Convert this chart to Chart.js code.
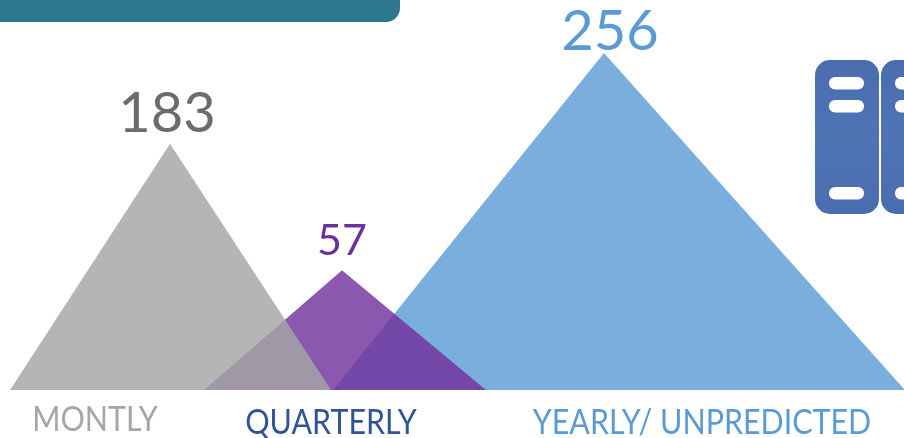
<!DOCTYPE html>
<html>
<head>
<meta charset="utf-8">
<style>html,body{margin:0;padding:0;background:#fff;overflow:hidden}canvas{display:block}</style>
<script src="https://cdn.jsdelivr.net/npm/chart.js@4"></script>
</head>
<body>
<canvas id="c" width="904" height="438"></canvas>
<script>
// Data
const categories = ['MONTLY', 'QUARTERLY', 'YEARLY/ UNPREDICTED'];
const values = [183, 57, 256];
// Drawn triangle heights (the source graphic is not strictly proportional to its labels)
const drawnPeaks = [187, 91, 256];
const spanStart = [10, 204, 333];
const spanPeak = [170, 342, 604];
const spanEnd = [331, 486, 905];

const fills = ['rgba(166,166,166,0.835)', 'rgba(115,50,158,0.82)', '#7aaedd'];
const valueColors = ['#6f6b6c', '#6a2fa0', '#5b9bd5'];
const valueFonts = [56, 43, 56];
const valueGaps = [12, 15, 3];
const valueShift = [-3, 0, 6];
const catColors = ['#a6a6a6', '#2f5597', '#5b9bd5'];
const catX = [95, 331, 702];
const catBaseline = [431, 434, 434];
const catSqueeze = 0.895;
const FONT = 'Lato, "Open Sans", sans-serif';

const decorations = {
  id: 'decorations',
  afterDraw(chart) {
    const ctx = chart.ctx;
    const xs = chart.scales.x, ys = chart.scales.y;
    ctx.save();
    // header band
    ctx.fillStyle = '#2e788f';
    ctx.beginPath();
    ctx.roundRect(-20, -30, 420, 52, 14);
    ctx.fill();
    // server icon
    const grad = ctx.createLinearGradient(0, 60, 0, 215);
    grad.addColorStop(0, '#4a6db0');
    grad.addColorStop(0.5, '#4f74b4');
    grad.addColorStop(1, '#4a6db0');
    [815, 881].forEach(x0 => {
      ctx.fillStyle = grad;
      ctx.beginPath();
      ctx.roundRect(x0, 60, 64, 154, 15);
      ctx.fill();
      ctx.fillStyle = '#ffffff';
      [77, 100, 187].forEach(y0 => {
        ctx.beginPath();
        ctx.roundRect(x0 + 14, y0, 35, 12.5, 6);
        ctx.fill();
      });
    });
    // value labels
    ctx.textAlign = 'center';
    ctx.textBaseline = 'alphabetic';
    values.forEach((v, i) => {
      ctx.font = valueFonts[i] + 'px ' + FONT;
      ctx.fillStyle = valueColors[i];
      ctx.fillText(String(v), xs.getPixelForValue(spanPeak[i]) + valueShift[i], ys.getPixelForValue(drawnPeaks[i]) - valueGaps[i]);
    });
    // category labels
    ctx.font = '34px ' + FONT;
    categories.forEach((c, i) => {
      ctx.save();
      ctx.translate(catX[i], catBaseline[i]);
      ctx.scale(catSqueeze, 1);
      ctx.fillStyle = catColors[i];
      ctx.fillText(c, 0, 0);
      ctx.restore();
    });
    ctx.restore();
  }
};

new Chart(document.getElementById('c'), {
  type: 'scatter',
  data: {
    datasets: categories.map((c, i) => ({
      label: c,
      data: [
        { x: spanStart[i], y: 0 },
        { x: spanPeak[i], y: drawnPeaks[i] },
        { x: spanEnd[i], y: 0 }
      ],
      showLine: true,
      fill: 'origin',
      backgroundColor: fills[i],
      borderWidth: 0,
      borderColor: 'transparent',
      pointRadius: 0,
      tension: 0
    }))
  },
  options: {
    responsive: false,
    animation: false,
    layout: { padding: { left: 0, right: 0, top: 0, bottom: 48 } },
    plugins: { legend: { display: false }, tooltip: { enabled: false }, title: { display: false } },
    scales: {
      x: { type: 'linear', min: 0, max: 904, display: false },
      y: { type: 'linear', min: 0, max: 296.3, display: false }
    }
  },
  plugins: [decorations]
});
</script>
</body>
</html>
